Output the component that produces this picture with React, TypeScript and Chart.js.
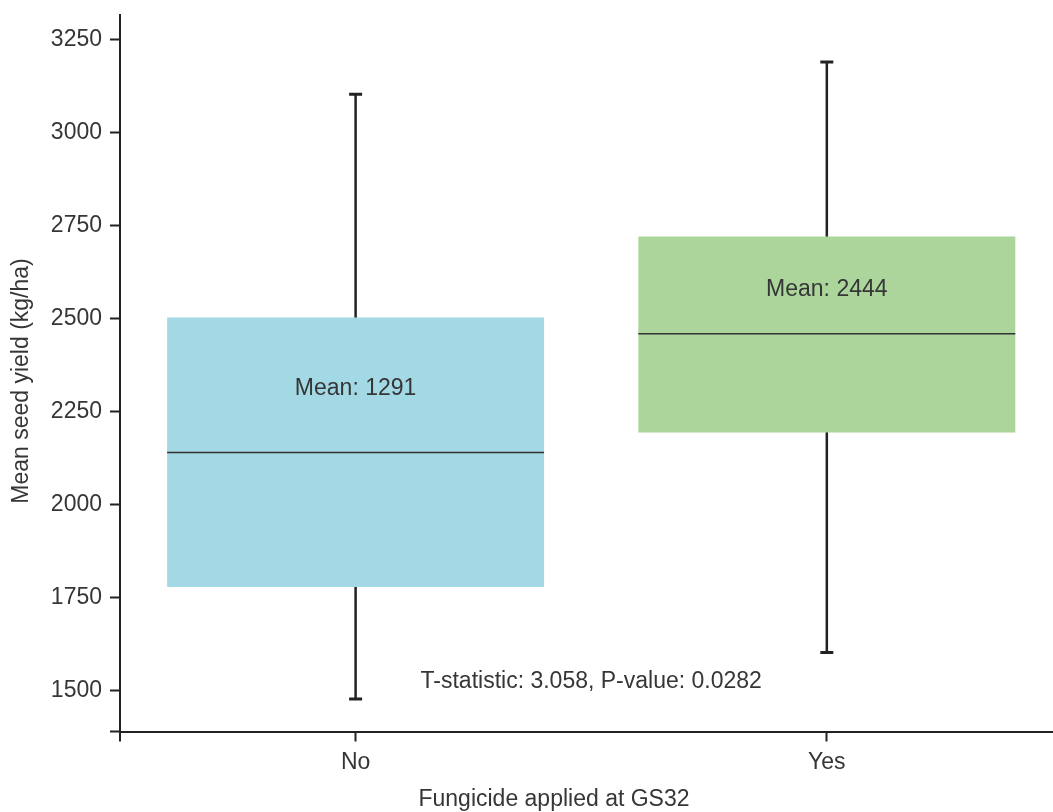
import { useEffect, useRef } from "react";
import { Chart, registerables } from "chart.js";

Chart.register(...registerables);

// Fungicide treatment groups and their yield distributions (kg/ha)
const categories = ["No", "Yes"];
const q1 = [1779, 2194];
const q3 = [2503, 2720];
const medians = [2140, 2459];
const whiskerLow = [1478, 1603];
const whiskerHigh = [3102, 3189];
const means = [1291, 2444];
const boxColors = ["#A3D8E5", "#ABD59B"];

// Axis range and tick spacing
const yMin = 1391;
const yMax = 3315;
const yTickStep = 250;

// Two-sample test result shown under the boxes
const tStatistic = 3.058;
const pValue = 0.0282;
const statLabelX = 0.5;
const statLabelY = 1525;

const FONT = "'Liberation Sans', Arial, Helvetica, sans-serif";
const TEXT = "#363636";
const INK = "#222222";
const FONT_SIZE = 23;

const boxPlotExtras = {
  id: "boxPlotExtras",
  beforeDatasetsDraw(chart: any) {
    const { ctx } = chart;
    const x = chart.scales.x;
    const y = chart.scales.y;
    ctx.save();
    ctx.strokeStyle = INK;
    ctx.lineCap = "butt";
    categories.forEach((_, i) => {
      const cx = x.getPixelForValue(i);
      const top = y.getPixelForValue(whiskerHigh[i]);
      const bot = y.getPixelForValue(whiskerLow[i]);
      // whisker stem
      ctx.lineWidth = 2.5;
      ctx.beginPath();
      ctx.moveTo(cx, top);
      ctx.lineTo(cx, bot);
      ctx.stroke();
      // whisker caps
      ctx.lineWidth = 3;
      ctx.beginPath();
      ctx.moveTo(cx - 6.5, top);
      ctx.lineTo(cx + 6.5, top);
      ctx.moveTo(cx - 6.5, bot);
      ctx.lineTo(cx + 6.5, bot);
      ctx.stroke();
    });
    ctx.restore();
  },
  afterDatasetsDraw(chart: any) {
    const { ctx } = chart;
    const x = chart.scales.x;
    const y = chart.scales.y;
    const meta = chart.getDatasetMeta(0);
    ctx.save();
    // median lines across each box
    ctx.strokeStyle = "#333333";
    ctx.lineWidth = 1.5;
    meta.data.forEach((el: any, i: number) => {
      const my = y.getPixelForValue(medians[i]);
      ctx.beginPath();
      ctx.moveTo(el.x - el.width / 2, my);
      ctx.lineTo(el.x + el.width / 2, my);
      ctx.stroke();
    });
    // mean annotations, halfway between median and upper quartile
    ctx.fillStyle = TEXT;
    ctx.font = `${FONT_SIZE}px ${FONT}`;
    ctx.textAlign = "center";
    ctx.textBaseline = "middle";
    categories.forEach((_, i) => {
      const ly = y.getPixelForValue((medians[i] + q3[i]) / 2) + 4;
      ctx.fillText(`Mean: ${means[i]}`, x.getPixelForValue(i), ly);
    });
    // test statistic
    ctx.fillText(
      `T-statistic: ${tStatistic.toFixed(3)}, P-value: ${pValue.toFixed(4)}`,
      x.getPixelForValue(statLabelX),
      y.getPixelForValue(statLabelY)
    );
    ctx.restore();
  },
  afterDraw(chart: any) {
    const { ctx, chartArea } = chart;
    ctx.save();
    ctx.strokeStyle = INK;
    ctx.lineWidth = 2;
    // short spurs where the two axes meet
    ctx.beginPath();
    ctx.moveTo(chartArea.left - 10, chartArea.bottom);
    ctx.lineTo(chartArea.left, chartArea.bottom);
    ctx.moveTo(chartArea.left, chartArea.bottom);
    ctx.lineTo(chartArea.left, chartArea.bottom + 10);
    ctx.stroke();
    // axis titles
    ctx.fillStyle = TEXT;
    ctx.font = `${FONT_SIZE}px ${FONT}`;
    ctx.textAlign = "center";
    ctx.textBaseline = "middle";
    ctx.fillText("Fungicide applied at GS32", 554, 800);
    ctx.translate(22, 381);
    ctx.rotate(-Math.PI / 2);
    ctx.fillText("Mean seed yield (kg/ha)", 0, 0);
    ctx.restore();
  },
};

export default function App() {
  const canvasRef = useRef<HTMLCanvasElement | null>(null);

  useEffect(() => {
    if (!canvasRef.current) return;
    const chart = new Chart(canvasRef.current, {
      type: "bar",
      data: {
        datasets: [
          {
            data: categories.map((_, i) => ({ x: i, y: [q1[i], q3[i]] })) as any,
            backgroundColor: boxColors,
            borderWidth: 0,
            categoryPercentage: 1,
            barPercentage: 0.8,
          },
        ],
      },
      options: {
        animation: false,
        responsive: false,
        devicePixelRatio: 1,
        layout: { padding: { top: 15, right: 0, left: 0, bottom: 0 } },
        plugins: {
          legend: { display: false },
          tooltip: { enabled: false },
        },
        scales: {
          x: {
            type: "linear",
            min: -0.5,
            max: 1.48,
            offset: false,
            afterFit: (scale: any) => {
              scale.height = 80.5;
              scale.paddingLeft = 0;
              scale.paddingRight = 0;
            },
            border: { display: true, color: INK, width: 2 },
            grid: {
              offset: false,
              drawOnChartArea: false,
              drawTicks: true,
              tickLength: 10,
              tickWidth: 2,
              tickColor: INK,
            },
            ticks: {
              stepSize: 1,
              includeBounds: false,
              padding: 7,
              color: TEXT,
              font: { family: FONT, size: FONT_SIZE },
              callback: (v: any) => categories[v as number] ?? "",
            },
          },
          y: {
            type: "linear",
            min: yMin,
            max: yMax,
            afterFit: (scale: any) => {
              scale.width = 120;
              scale.paddingTop = 0;
              scale.paddingBottom = 0;
            },
            border: { display: true, color: INK, width: 2 },
            grid: {
              drawOnChartArea: false,
              drawTicks: true,
              tickLength: 10,
              tickWidth: 2,
              tickColor: INK,
            },
            ticks: {
              stepSize: yTickStep,
              includeBounds: false,
              padding: 8,
              color: TEXT,
              font: { family: FONT, size: FONT_SIZE },
              callback: (v: any) => String(v),
            },
          },
        },
      },
      plugins: [boxPlotExtras],
    });
    return () => chart.destroy();
  }, []);

  return (
    <div style={{ position: "absolute", left: 0, top: 0, width: 1053, height: 812, background: "#fff" }}>
      <canvas ref={canvasRef} width={1053} height={812} />
    </div>
  );
}
